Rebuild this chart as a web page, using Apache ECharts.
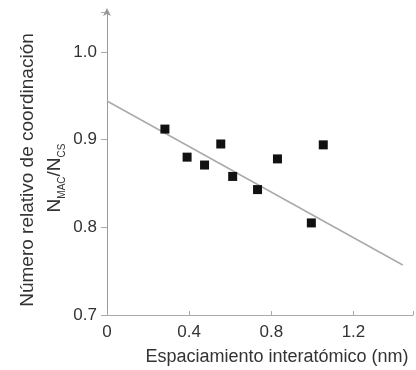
<!DOCTYPE html>
<html>
<head>
<meta charset="utf-8">
<script src="https://cdn.jsdelivr.net/npm/echarts@6/dist/echarts.min.js"></script>
<style>html,body{margin:0;padding:0;background:#fff;}#c{width:416px;height:370px;}</style>
</head>
<body>
<div id="c"></div>
<script>
const spacing = [0.282, 0.390, 0.475, 0.554, 0.612, 0.733, 0.830, 0.995, 1.053];
const coordRatio = [0.912, 0.880, 0.871, 0.895, 0.858, 0.843, 0.878, 0.805, 0.894];
const trendX = [0, 1.44];
const trendY = [0.944, 0.757];
const xTicks = ['0', '0.4', '0.8', '1.2'];
const yTicks = ['0.7', '0.8', '0.9', '1.0'];
const xTitle = 'Espaciamiento interatómico (nm)';
const yTitle1 = 'Número relativo de coordinación';

function pick(list, v, start, step) {
  const f = (v - start) / step;
  const i = Math.round(f);
  if (Math.abs(f - i) > 0.01) return '';
  return list[i] !== undefined ? list[i] : '';
}

const chart = echarts.init(document.getElementById('c'), null, {renderer: 'canvas'});
const font = 'Liberation Sans, Arial, sans-serif';
chart.setOption({
  animation: false,
  backgroundColor: '#fff',
  grid: {left: 107, right: 0, top: 12, bottom: 55},
  xAxis: {
    type: 'value', min: 0, max: 1.49, interval: 0.4,
    axisLine: {show: true, lineStyle: {color: '#aaa', width: 1}},
    axisTick: {show: true, inside: true, length: 4, lineStyle: {color: '#aaa'}},
    splitLine: {show: false},
    axisLabel: {
      margin: 9, color: '#333', fontSize: 17, fontFamily: font,
      formatter: v => pick(xTicks, v, 0, 0.4)
    }
  },
  yAxis: {
    type: 'value', min: 0.7, max: 1.0455, interval: 0.1,
    axisLine: {show: true, symbol: ['none', 'arrow'], symbolSize: [6, 8], symbolOffset: [0, 4], lineStyle: {color: '#999', width: 1}},
    axisTick: {show: true, inside: false, length: 6, lineStyle: {color: '#aaa'}},
    splitLine: {show: false},
    axisLabel: {
      margin: 10, color: '#333', fontSize: 17, fontFamily: font,
      formatter: v => pick(yTicks, v, 0.7, 0.1)
    }
  },
  graphic: [
    {type: 'text', x: 28, y: 170, rotation: Math.PI / 2,
     style: {text: yTitle1, font: '19px ' + font, fill: '#333', align: 'center', verticalAlign: 'middle'}},
    {type: 'text', x: 53, y: 178, rotation: Math.PI / 2,
     style: {
       text: '{n|N}{s|MAC}{n|/N}{s|CS}', align: 'center', verticalAlign: 'middle',
       rich: {
         n: {fontSize: 19, fontFamily: font, fill: '#333', lineHeight: 22, verticalAlign: 'bottom'},
         s: {fontSize: 10, fontFamily: font, fill: '#333', lineHeight: 22, verticalAlign: 'bottom', padding: [0, 0, -3, 0]}
       }
     }},
    {type: 'text', x: 277, y: 357,
     style: {text: xTitle, font: '18px ' + font, fill: '#333', align: 'center', verticalAlign: 'middle'}}
  ],
  series: [
    {type: 'line', data: trendX.map((x, i) => [x, trendY[i]]), symbol: 'none',
     lineStyle: {color: '#aaa', width: 1.5}, z: 1},
    {type: 'scatter', data: spacing.map((x, i) => [x, coordRatio[i]]), symbol: 'rect', symbolSize: 9,
     itemStyle: {color: '#111', opacity: 1}, z: 3}
  ]
});
</script>
</body>
</html>
